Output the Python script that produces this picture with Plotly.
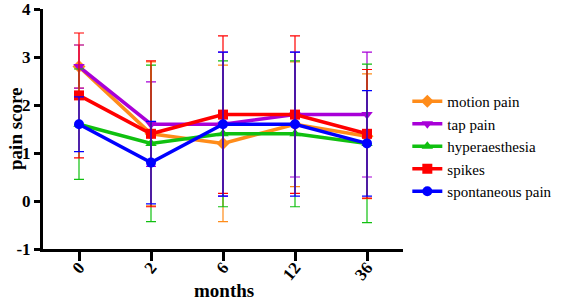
import plotly.graph_objects as go

months = ["0", "2", "6", "12", "36"]
series_names = ["motion pain", "tap pain", "hyperaesthesia", "spikes", "spontaneous pain"]
y_ticks = [-1, 0, 1, 2, 3, 4]
y_tick_labels = ["-1", "0", "1", "2", "3", "4"]

motion_pain = [2.8, 1.4, 1.2, 1.6, 1.35]
motion_pain_sd = [0.45, 1.5, 1.63, 1.3, 1.3]
tap_pain = [2.8, 1.6, 1.6, 1.8, 1.8]
tap_pain_sd = [0.45, 0.88, 1.5, 1.3, 1.3]
hyperaesthesia = [1.6, 1.2, 1.4, 1.4, 1.2]
hyperaesthesia_sd = [1.15, 1.63, 1.52, 1.52, 1.65]
spikes = [2.2, 1.4, 1.8, 1.8, 1.4]
spikes_sd = [1.3, 1.52, 1.64, 1.64, 1.34]
spontaneous_pain = [1.6, 0.8, 1.6, 1.6, 1.2]
spontaneous_pain_sd = [0.57, 0.86, 1.5, 1.5, 1.1]

values = [motion_pain, tap_pain, hyperaesthesia, spikes, spontaneous_pain]
sds = [motion_pain_sd, tap_pain_sd, hyperaesthesia_sd, spikes_sd, spontaneous_pain_sd]
colors = ["#FF8C1A", "#A800D8", "#10C010", "#FF0000", "#0000FF"]
symbols = ["diamond", "triangle-down", "triangle-up", "square", "circle"]

fig = go.Figure()
for name, v, sd, c, s in zip(series_names, values, sds, colors, symbols):
    fig.add_trace(go.Scatter(
        x=months, y=v, name=name, mode="lines+markers",
        line=dict(color=c, width=3.5),
        marker=dict(color=c, symbol=s, size=10),
        error_y=dict(type="data", array=sd, visible=True, color=c, thickness=1.2, width=5),
        legendgroup=name,
    ))

serif = "Liberation Serif, Times New Roman, serif"
fig.update_layout(
    width=565, height=300,
    margin=dict(l=43, r=162, t=9, b=51, autoexpand=False),
    plot_bgcolor="white", paper_bgcolor="white",
    font=dict(family=serif, color="black"),
    legend=dict(x=1.012, y=0.683, xanchor="left", yanchor="top",
                font=dict(family=serif, size=15, color="black"),
                traceorder="grouped", tracegroupgap=0, itemwidth=30),
    xaxis=dict(
        type="category", range=[-0.5, 4.5], automargin=False,
        showline=True, linecolor="black", linewidth=3,
        ticks="outside", ticklen=9, tickwidth=3, tickcolor="black",
        tickangle=-50, showgrid=False, zeroline=False,
        ticklabelstandoff=-10, ticklabeloverflow="allow",
        tickfont=dict(family=serif, size=17, color="black", weight="bold"),
    ),
    yaxis=dict(
        range=[-1, 4], tickvals=y_ticks, ticktext=y_tick_labels, automargin=False,
        showline=True, linecolor="black", linewidth=3,
        ticks="outside", ticklen=6, tickwidth=3, tickcolor="black",
        showgrid=False, zeroline=False, ticklabeloverflow="allow",
        tickfont=dict(family=serif, size=17, color="black", weight="bold"),
    ),
    annotations=[
        dict(text="<b>months</b>", xref="paper", yref="paper", x=0.503, y=-0.171,
             xanchor="center", yanchor="middle", showarrow=False,
             font=dict(family=serif, size=19, color="black")),
        dict(text="<b>pain score</b>", xref="paper", yref="paper", x=-0.078, y=0.504,
             xanchor="center", yanchor="middle", textangle=-90, showarrow=False,
             font=dict(family=serif, size=19, color="black")),
    ],
)

fig.write_html("out.html", config={"displayModeBar": False},
               post_script="document.body.style.margin='0px';")
